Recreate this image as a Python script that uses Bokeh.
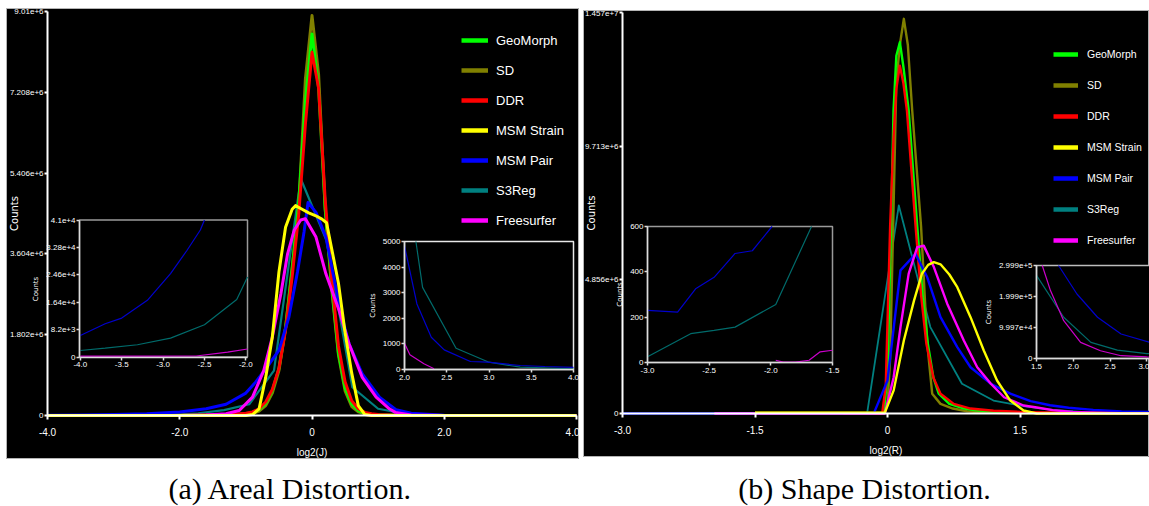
import math
from bokeh.plotting import figure
from bokeh.models import Range1d, LinearAxis, FixedTicker, Legend, LegendItem
from bokeh.layouts import column, row
from bokeh.embed import file_html
from bokeh.resources import INLINE
from bokeh.core.properties import value

SANS = "Liberation Sans"

# ---------------- series ----------------
NAMES = ["GeoMorph", "SD", "DDR", "MSM Strain", "MSM Pair", "S3Reg", "Freesurfer"]
COLORS = ["#00ff00", "#808000", "#ff0000", "#ffff00", "#0000ff", "#008080", "#ff00ff"]
INSET_COLORS = {"MSM Pair": "#0000cc", "S3Reg": "#006b6b", "Freesurfer": "#cc00cc"}
DRAW_ORDER = ["S3Reg", "SD", "GeoMorph", "DDR", "MSM Pair", "Freesurfer", "MSM Strain"]

# ---------------- (a) Areal distortion : log2(J), counts in millions ----------------
A_GRID_X = [-4.0, -3.0, -2.5, -2.0, -1.8, -1.6, -1.4, -1.2, -1.0, -0.9, -0.8, -0.7, -0.6, -0.5,
            -0.4, -0.3, -0.2, -0.1, 0.0, 0.1, 0.2, 0.3, 0.4, 0.5, 0.6, 0.7, 0.8, 0.9, 1.0, 1.2,
            1.4, 1.6, 1.8, 2.0, 2.5, 3.0, 4.0]
A_GEOMORPH = [0, 0, 0.001, 0.003, 0.005, 0.008, 0.012, 0.02, 0.04, 0.07, 0.13, 0.27, 0.55, 1.05,
              1.95, 3.25, 4.75, 7.0, 8.51, 7.3, 4.6, 2.85, 1.4, 0.62, 0.26, 0.11, 0.05, 0.03, 0.02,
              0.01, 0.006, 0.004, 0.003, 0.002, 0.001, 0, 0]
A_SD = [0, 0, 0, 0.002, 0.003, 0.005, 0.008, 0.012, 0.025, 0.045, 0.1, 0.22, 0.5, 1.0,
        1.95, 3.3, 4.7, 7.5, 8.92, 7.6, 4.6, 2.8, 1.35, 0.55, 0.2, 0.08, 0.035, 0.02, 0.012,
        0.006, 0.003, 0.002, 0.001, 0, 0, 0, 0]
A_DDR = [0, 0, 0.001, 0.004, 0.006, 0.01, 0.015, 0.025, 0.05, 0.08, 0.15, 0.3, 0.58, 1.05,
         1.9, 3.1, 4.5, 6.5, 8.1, 7.3, 4.8, 3.0, 1.55, 0.75, 0.33, 0.15, 0.07, 0.04, 0.025,
         0.012, 0.007, 0.004, 0.003, 0.002, 0.001, 0, 0]
A_STRAIN_X = [-4.0, -1.0, -0.9, -0.8, -0.7, -0.6, -0.5, -0.4, -0.3, -0.25, -0.15, -0.05, 0.05,
              0.15, 0.22, 0.3, 0.4, 0.5, 0.6, 0.7, 0.8, 0.9, 4.0]
A_STRAIN = [0, 0, 0.02, 0.15, 0.85, 1.75, 3.2, 4.2, 4.6, 4.68, 4.6, 4.52, 4.46,
            4.38, 4.3, 3.7, 2.95, 1.85, 0.95, 0.22, 0.02, 0, 0]
A_PAIR_X = [-4.0, -3.5, -3.0, -2.5, -2.0, -1.6, -1.3, -1.0, -0.85, -0.7, -0.5, -0.35, -0.22,
            -0.12, -0.06, 0.06, 0.21, 0.31, 0.43, 0.56, 0.76, 1.02, 1.27, 1.5, 2.0, 2.5, 3.0,
            3.5, 4.0]
A_PAIR = [0.0065, 0.0116, 0.022, 0.041, 0.08, 0.15, 0.25, 0.5, 0.75, 1.04, 1.45, 2.19, 3.2,
          4.1, 4.75, 4.53, 3.98, 3.23, 2.34, 1.6, 0.93, 0.41, 0.13, 0.05, 0.0048, 0.0007, 0.0003,
          0.00015, 0.00008]
A_S3REG_X = [-4.0, -3.7, -3.31, -2.91, -2.5, -2.11, -1.72, -1.33, -0.95, -0.575, -0.17, 0.22,
             0.61, 1.0, 1.4, 1.8, 2.21, 2.61, 3.0, 3.37, 3.76, 4.0]
A_S3REG = [0.00195, 0.0026, 0.0037, 0.0057, 0.0097, 0.0172, 0.05, 0.12, 0.25, 1.0, 5.28, 3.9,
           0.63, 0.15, 0.04, 0.0125, 0.0032, 0.00083, 0.000285, 0.00009, 0.00004, 0.000027]
A_FREESURFER_X = [-4.0, -3.0, -2.5, -2.2, -2.0, -1.6, -1.3, -1.1, -0.9, -0.73, -0.6, -0.47,
                  -0.37, -0.27, -0.17, -0.1, 0.06, 0.21, 0.41, 0.56, 0.76, 0.97, 1.17, 1.26, 1.5,
                  2.0, 2.35, 3.0, 4.0]
A_FREESURFER = [0.00024, 0.00027, 0.0004, 0.0015, 0.0025, 0.01, 0.04, 0.11, 0.41, 1.0, 1.75,
                2.72, 3.6, 4.13, 4.36, 4.39, 3.98, 3.16, 2.34, 1.6, 0.85, 0.41, 0.15, 0.07, 0.012,
                0.001, 0.00003, 0, 0]

# inset (a) left : log2(J) in [-4, -2]
IA_PAIR_X = [-4.0, -3.7, -3.5, -3.19, -2.91, -2.71, -2.55, -2.5]
IA_PAIR = [6450, 9960, 11640, 16950, 24960, 31950, 38000, 41000]
IA_S3REG_X = [-4.0, -3.7, -3.31, -2.91, -2.5, -2.11, -1.98]
IA_S3REG = [1950, 2640, 3660, 5650, 9660, 17180, 23970]
IA_FREESURFER_X = [-4.0, -3.0, -2.6, -2.22, -1.98]
IA_FREESURFER = [240, 270, 300, 1440, 2400]
# inset (a) right : log2(J) in [2, 4]
IB_S3REG_X = [2.135, 2.214, 2.61, 3.0, 3.37, 4.0]
IB_S3REG = [5000, 3207, 830, 285, 90, 27]
IB_PAIR_X = [2.0, 2.147, 2.317, 2.47, 2.78, 2.98, 3.37, 3.66, 4.0]
IB_PAIR = [4830, 2560, 1260, 766, 312, 285, 156, 117, 80]
IB_FREESURFER_X = [2.0, 2.064, 2.23, 2.35]
IB_FREESURFER = [1025, 573, 222, 27]

# ---------------- (b) Shape distortion : log2(R), counts in millions ----------------
B_SD_X = [-1.5, -0.5, -0.05, 0.0, 0.03, 0.064, 0.1, 0.14, 0.185, 0.23, 0.28, 0.33, 0.38, 0.45,
          0.506, 0.6, 0.74, 0.9, 1.1, 1.5, 2.0, 3.0]
B_SD = [0.03, 0.03, 0.03, 0.3, 2.0, 6.8, 12.0, 13.4, 14.34, 13.4, 11.0, 8.9, 6.8, 2.53,
        0.72, 0.35, 0.18, 0.08, 0.03, 0.01, 0.005, 0.0]
B_GEOMORPH_X = [-0.5, -0.04, 0.0, 0.04, 0.068, 0.1, 0.14, 0.18, 0.24, 0.336, 0.4, 0.457, 0.52,
                0.58, 0.7, 0.87, 1.0, 1.2, 1.5, 2.0, 2.5, 3.0]
B_GEOMORPH = [0, 0, 1.5, 6.83, 11.0, 13.0, 13.49, 12.6, 11.0, 6.83, 4.2, 2.53, 1.3,
              0.72, 0.35, 0.18, 0.12, 0.07, 0.04, 0.02, 0.01, 0.005]
B_DDR_X = [-0.5, -0.06, -0.02, 0.03, 0.068, 0.1, 0.14, 0.18, 0.22, 0.317, 0.38, 0.44, 0.52, 0.6,
           0.75, 0.94, 1.2, 1.5, 2.0, 2.5, 3.0]
B_DDR = [0, 0, 1.0, 6.83, 10.0, 11.8, 12.64, 12.0, 11.0, 6.83, 4.3, 2.53, 1.3, 0.72,
         0.35, 0.18, 0.1, 0.06, 0.03, 0.02, 0.01]
B_STRAIN_X = [-1.5, -0.03, 0.07, 0.185, 0.3, 0.39, 0.46, 0.525, 0.6, 0.7, 0.79, 0.94, 1.09,
              1.24, 1.39, 1.54, 1.69, 3.0]
B_STRAIN = [0.03, 0.03, 0.84, 2.65, 4.1, 5.08, 5.4, 5.5, 5.42, 5.05, 4.59, 3.5, 2.29,
            1.2, 0.47, 0.11, 0.0, 0.0]
B_PAIR_X = [-3.0, -1.5, -0.155, 0.0, 0.147, 0.317, 0.45, 0.6, 0.79, 0.94, 1.17, 1.39, 1.62,
            1.84, 2.05, 2.33, 2.65, 3.0]
B_PAIR = [0.0002, 0.001, 0.005, 1.2, 5.2, 5.8, 4.95, 3.5, 2.41, 1.68, 1.08, 0.72, 0.45,
          0.3, 0.208, 0.133, 0.079, 0.052]
B_S3REG_X = [-3.0, -2.65, -2.46, -2.29, -1.96, -1.6, -1.25, -0.87, -0.51, -0.23, 0.128, 0.485,
             0.843, 1.2, 1.557, 1.87, 2.24, 2.6, 3.0]
B_S3REG = [0.000025, 0.000127, 0.000142, 0.000156, 0.000256, 0.0008, 0.002, 0.004, 0.008,
           0.02, 7.56, 3.14, 1.08, 0.47, 0.26, 0.133, 0.052, 0.027, 0.016]
B_FREESURFER_X = [-1.96, -1.9, -1.69, -1.6, -1.5, -1.0, -0.5, -0.03, 0.07, 0.147, 0.24, 0.336,
                  0.41, 0.525, 0.676, 0.864, 1.016, 1.17, 1.32, 1.54, 1.69, 1.87, 2.1, 2.37,
                  2.65, 3.0]
B_FREESURFER = [0.00001, 0.0, 0.00001, 0.000047, 0.000054, 0.0001, 0.0002, 0.001, 1.32, 3.14,
                5.08, 6.04, 6.1, 5.32, 3.99, 2.65, 1.68, 1.08, 0.59, 0.29, 0.219, 0.122, 0.052,
                0.025, 0.009, 0.005]

# inset (b) left : log2(R) in [-3, -1.5]
ID_PAIR_X = [-3.0, -2.756, -2.61, -2.46, -2.29, -2.15, -1.99]
ID_PAIR = [230, 222, 325, 376, 481, 493, 600]
ID_S3REG_X = [-3.0, -2.65, -2.46, -2.29, -1.96, -1.67]
ID_S3REG = [25, 127, 142, 156, 256, 600]
ID_FREESURFER_X = [-1.96, -1.9, -1.8, -1.69, -1.6, -1.5]
ID_FREESURFER = [10, 2, 2, 10, 47, 54]
# inset (b) right : log2(R) from 1.5
IC_FREESURFER_X = [1.578, 1.69, 1.87, 2.1, 2.37, 2.65, 3.0, 3.2]
IC_FREESURFER = [299900, 219000, 122000, 52000, 25000, 9000, 5000, 4000]
IC_S3REG_X = [1.5, 1.87, 2.24, 2.6, 3.0, 3.2]
IC_S3REG = [268000, 133000, 52000, 27000, 16000, 14000]
IC_PAIR_X = [1.8, 2.05, 2.33, 2.65, 3.04, 3.2]
IC_PAIR = [299900, 208000, 133000, 79000, 52000, 45000]

# ---------------- ticks ----------------
A_XTICKS = [-4.0, -2.0, 0.0, 2.0, 4.0]
A_XLABELS = ["-4.0", "-2.0", "0", "2.0", "4.0"]
A_YTICKS = [0.0, 1.802e6, 3.604e6, 5.406e6, 7.208e6, 9.01e6]
A_YLABELS = ["0", "1.802e+6", "3.604e+6", "5.406e+6", "7.208e+6", "9.01e+6"]
B_XTICKS = [-3.0, -1.5, 0.0, 1.5, 3.0]
B_XLABELS = ["-3.0", "-1.5", "0", "1.5", "3.0"]
B_YTICKS = [0.0, 4.856e6, 9.713e6, 1.457e7]
B_YLABELS = ["0", "4.856e+6", "9.713e+6", "1.457e+7"]

IA_XTICKS = [-4.0, -3.5, -3.0, -2.5, -2.0]
IA_XLABELS = ["-4.0", "-3.5", "-3.0", "-2.5", "-2.0"]
IA_YTICKS = [0.0, 8200.0, 16400.0, 24600.0, 32800.0, 41000.0]
IA_YLABELS = ["0", "8.2e+3", "1.64e+4", "2.46e+4", "3.28e+4", "4.1e+4"]
IB_XTICKS = [2.0, 2.5, 3.0, 3.5, 4.0]
IB_XLABELS = ["2.0", "2.5", "3.0", "3.5", "4.0"]
IB_YTICKS = [0.0, 1000.0, 2000.0, 3000.0, 4000.0, 5000.0]
IB_YLABELS = ["0", "1000", "2000", "3000", "4000", "5000"]
IC_XTICKS = [1.5, 2.0, 2.5, 3.0]
IC_XLABELS = ["1.5", "2.0", "2.5", "3.0"]
IC_YTICKS = [0.0, 99970.0, 199900.0, 299900.0]
IC_YLABELS = ["0", "9.997e+4", "1.999e+5", "2.999e+5"]
ID_XTICKS = [-3.0, -2.5, -2.0, -1.5]
ID_XLABELS = ["-3.0", "-2.5", "-2.0", "-1.5"]
ID_YTICKS = [0.0, 200.0, 400.0, 600.0]
ID_YLABELS = ["0", "200", "400", "600"]

CAPTIONS = ["(a) Areal Distortion.", "(b) Shape Distortion."]

MILLION = 1e6


def span(d0, p0, d1, p1, e0, e1):
    """Range whose data d0/d1 land on page pixels p0/p1, for a frame spanning pixels e0..e1."""
    s = (d1 - d0) / (p1 - p0)
    return Range1d(d0 + (e0 - p0) * s, d0 + (e1 - p0) * s)


def style_axis(ax, ticks, labels, size="9px", line_color="white", line_width=2, tick_out=3,
               standoff=1):
    ax.ticker = FixedTicker(ticks=ticks)
    ax.major_label_overrides = {float(t): l for t, l in zip(ticks, labels)}
    ax.minor_tick_line_color = None
    ax.major_tick_in = 0
    ax.major_tick_out = tick_out
    ax.axis_line_color = line_color
    ax.axis_line_width = line_width
    ax.major_tick_line_color = line_color
    ax.major_tick_line_width = line_width
    ax.major_label_text_color = "white"
    ax.major_label_text_font = SANS
    ax.major_label_text_font_size = size
    ax.major_label_standoff = standoff


def make_panel(page_box, x_anchor, y_anchor):
    L, R, T, B = page_box
    p = figure(width=R - L, height=B - T,
               x_range=span(x_anchor[0], x_anchor[1], x_anchor[2], x_anchor[3], L, R),
               y_range=span(y_anchor[0], y_anchor[1], y_anchor[2], y_anchor[3], B, T),
               output_backend="svg", toolbar_location=None, min_border=0,
               background_fill_color="black", border_fill_color="black")
    p.outline_line_color = "#b4b4b4"
    p.outline_line_width = 1
    p.xgrid.visible = False
    p.ygrid.visible = False
    return p


def add_inset(p, tag, page_box, box, xlim, ylim, xt, xl, yt, yl, border, lines):
    L, R, T, B = page_box
    bx0, bx1, byt, byb = box
    p.extra_x_ranges[tag + "x"] = span(xlim[0], bx0, xlim[1], bx1, L, R)
    p.extra_y_ranges[tag + "y"] = span(ylim[0], byb, ylim[1], byt, B, T)
    kw = dict(x_range_name=tag + "x", y_range_name=tag + "y")
    p.quad(left=[xlim[0]], right=[xlim[1]], bottom=[ylim[0]], top=[ylim[1]],
           fill_color="black", line_color=border, line_width=1.5, **kw)
    for xs, ys, c in lines:
        p.line(xs, ys, line_color=c, line_width=1.2, **kw)
    xa = LinearAxis(fixed_location=ylim[0], bounds=tuple(xlim), **kw)
    style_axis(xa, xt, xl, size="8px", line_color="#dcdcdc", line_width=1.5, tick_out=3, standoff=2)
    p.add_layout(xa, "below")
    ya = LinearAxis(fixed_location=xlim[0], bounds=tuple(ylim), axis_label="Counts", **kw)
    style_axis(ya, yt, yl, size="8px", line_color="#dcdcdc", line_width=1.5, tick_out=3, standoff=1)
    ya.axis_label_text_color = "white"
    ya.axis_label_text_font = "DejaVu Sans"
    ya.axis_label_text_font_size = "7px"
    ya.axis_label_text_font_style = "normal"
    ya.axis_label_standoff = 3
    p.add_layout(ya, "left")


def add_main(p, series, widths, xt, xlab, yt, ylab, xlabel, counts_standoff):
    for name in DRAW_ORDER:
        xs, ys = series[name]
        p.line(xs, [v * MILLION for v in ys], line_color=COLORS[NAMES.index(name)],
               line_width=widths.get(name, widths["default"]), line_join="round")
    xa = p.below[0]
    ya = p.left[0]
    xa.fixed_location = 0.0
    xa.bounds = (xt[0], xt[-1])
    ya.fixed_location = xt[0]
    ya.bounds = (yt[0], yt[-1])
    style_axis(xa, xt, xlab, size="10px", standoff=8, tick_out=4)
    style_axis(ya, yt, ylab, size="8px")
    xa.axis_label = xlabel
    xa.axis_label_text_color = "white"
    xa.axis_label_text_font = SANS
    xa.axis_label_text_font_size = "10px"
    xa.axis_label_text_font_style = "normal"
    xa.axis_label_standoff = 8
    ya.axis_label = "Counts"
    ya.axis_label_text_color = "white"
    ya.axis_label_text_font = "DejaVu Sans"
    ya.axis_label_text_font_size = "10px"
    ya.axis_label_text_font_style = "normal"
    ya.axis_label_standoff = counts_standoff


def add_legend(p, series, loc, spacing, glyph_w, standoff, font_size):
    items = []
    for n, c in zip(NAMES, COLORS):
        xs, ys = series[n]
        r = p.line(x=xs[:1], y=ys[:1], line_color=c, line_width=4.5)
        items.append(LegendItem(label=n, renderers=[r]))
    leg = Legend(items=items, location=loc, orientation="vertical", padding=0, margin=0,
                 spacing=spacing, glyph_width=glyph_w, glyph_height=20, label_height=20,
                 label_standoff=standoff, label_text_color="white", label_text_font=SANS,
                 label_text_font_size=font_size, background_fill_alpha=0, border_line_alpha=0)
    p.add_layout(leg)


# ---------------- panel (a) ----------------
A_BOX = (6, 579, 8, 459)        # page pixels of the panel: left, right, top, bottom
pa = make_panel(A_BOX, (-4.0, 47, 4.0, 576), (0.0, 415, 9.01e6, 11))
pa.margin = (8, 0, 0, 6)
a_series = {
    "GeoMorph": (A_GRID_X, A_GEOMORPH), "SD": (A_GRID_X, A_SD), "DDR": (A_GRID_X, A_DDR),
    "MSM Strain": (A_STRAIN_X, A_STRAIN), "MSM Pair": (A_PAIR_X, A_PAIR),
    "S3Reg": (A_S3REG_X, A_S3REG), "Freesurfer": (A_FREESURFER_X, A_FREESURFER),
}
add_main(pa, a_series, {"default": 3, "S3Reg": 2.2}, A_XTICKS, A_XLABELS, A_YTICKS, A_YLABELS,
         "log2(J)", -13)
add_inset(pa, "ia", A_BOX, (79, 247, 219.5, 356.5), (-4.01, -1.98), (0.0, 41000.0),
          IA_XTICKS, IA_XLABELS, IA_YTICKS, IA_YLABELS, "#9a9a9a",
          [(IA_S3REG_X, IA_S3REG, INSET_COLORS["S3Reg"]),
           (IA_FREESURFER_X, IA_FREESURFER, INSET_COLORS["Freesurfer"]),
           (IA_PAIR_X, IA_PAIR, INSET_COLORS["MSM Pair"])])
add_inset(pa, "ib", A_BOX, (404, 573, 241, 369), (2.0, 4.0), (0.0, 5000.0),
          IB_XTICKS, IB_XLABELS, IB_YTICKS, IB_YLABELS, "#e8e8e8",
          [(IB_S3REG_X, IB_S3REG, INSET_COLORS["S3Reg"]),
           (IB_FREESURFER_X, IB_FREESURFER, INSET_COLORS["Freesurfer"]),
           (IB_PAIR_X, IB_PAIR, INSET_COLORS["MSM Pair"])])
add_legend(pa, a_series, (455, 229), 10, 27, 8, "13px")

# ---------------- panel (b) ----------------
B_BOX = (583, 1149, 10, 457)
pb = make_panel(B_BOX, (-3.0, 622, 3.0, 1152), (0.0, 413, 1.457e7, 12))
pb.margin = (10, 0, 0, 4)
b_series = {
    "GeoMorph": (B_GEOMORPH_X, B_GEOMORPH), "SD": (B_SD_X, B_SD), "DDR": (B_DDR_X, B_DDR),
    "MSM Strain": (B_STRAIN_X, B_STRAIN), "MSM Pair": (B_PAIR_X, B_PAIR),
    "S3Reg": (B_S3REG_X, B_S3REG), "Freesurfer": (B_FREESURFER_X, B_FREESURFER),
}
add_main(pb, b_series, {"default": 2.4, "S3Reg": 1.8}, B_XTICKS, B_XLABELS, B_YTICKS, B_YLABELS,
         "log2(R)", -15)
add_inset(pb, "id", B_BOX, (647, 832, 226, 362), (-3.0, -1.5), (0.0, 600.0),
          ID_XTICKS, ID_XLABELS, ID_YTICKS, ID_YLABELS, "#9a9a9a",
          [(ID_S3REG_X, ID_S3REG, INSET_COLORS["S3Reg"]),
           (ID_FREESURFER_X, ID_FREESURFER, INSET_COLORS["Freesurfer"]),
           (ID_PAIR_X, ID_PAIR, INSET_COLORS["MSM Pair"])])
add_inset(pb, "ic", B_BOX, (1036, 1161, 265, 358), (1.5, 3.2), (0.0, 299900.0),
          IC_XTICKS, IC_XLABELS, IC_YTICKS, IC_YLABELS, "#bdbdbd",
          [(IC_S3REG_X, IC_S3REG, INSET_COLORS["S3Reg"]),
           (IC_FREESURFER_X, IC_FREESURFER, INSET_COLORS["Freesurfer"]),
           (IC_PAIR_X, IC_PAIR, INSET_COLORS["MSM Pair"])])
add_legend(pb, b_series, (470, 207), 11, 25, 9, "10.5px")

# ---------------- captions ----------------
cap = figure(width=1149, height=47, x_range=Range1d(0, 1149), y_range=Range1d(0, 47),
             output_backend="svg", toolbar_location=None, min_border=0,
             x_axis_type=None, y_axis_type=None)
cap.outline_line_color = None
cap.text(x=[290, 864], y=[18, 18], text=CAPTIONS, text_font=value("Liberation Serif"),
         text_font_size="30px", text_align="center", text_baseline="middle",
         text_color="black")

layout = column(row(pa, pb), cap)
open("out.html", "w").write(file_html(layout, INLINE))
